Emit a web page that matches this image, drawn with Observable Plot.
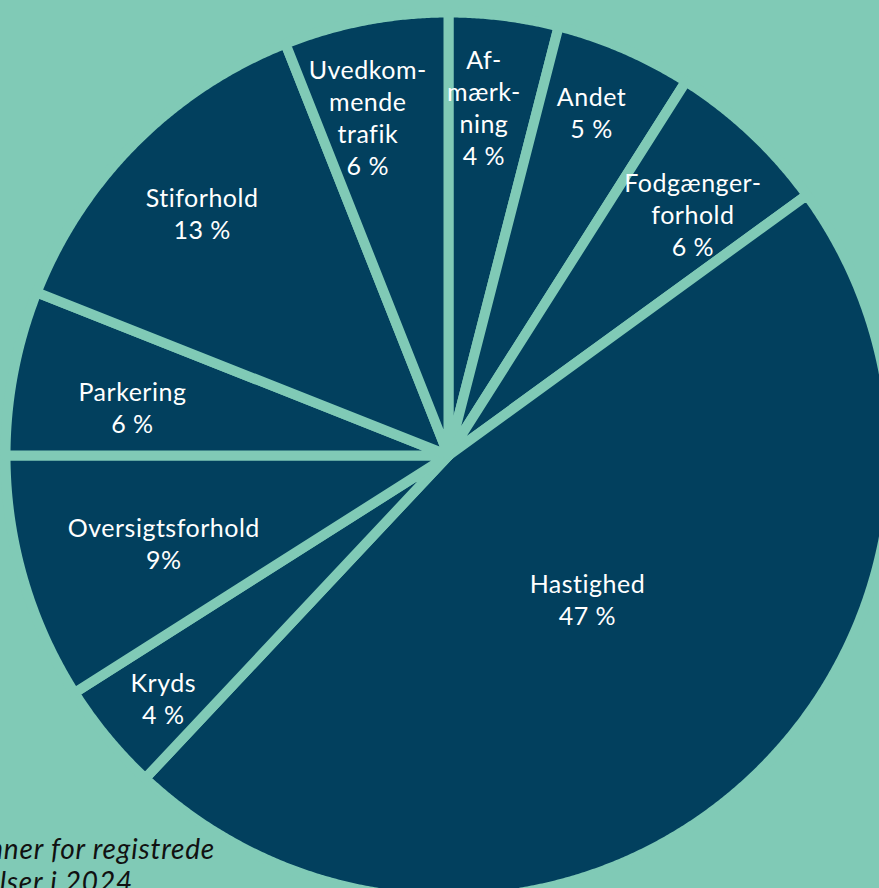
<!DOCTYPE html>
<html>
<head>
<meta charset="utf-8">
<script src="https://cdn.jsdelivr.net/npm/d3@7"></script>
<script src="https://cdn.jsdelivr.net/npm/@observablehq/plot@0.6"></script>
<style>
  html, body { margin: 0; padding: 0; background: #80cab6; }
  #wrap { position: relative; width: 879px; height: 888px; overflow: hidden; background: #80cab6; }
  #chart svg { display: block; }
  .cap { position: absolute; font-family: Lato, "Open Sans", sans-serif; font-style: italic; font-size: 28px; letter-spacing: 0.8px; line-height: 1.2; color: #111; white-space: nowrap; }
</style>
</head>
<body>
<div id="wrap">
  <div class="cap" id="cap1">Emner for registrede</div>
  <div class="cap" id="cap2">henvendelser i 2024</div>
  <div id="chart"></div>
</div>
<script>
// ---- data ----
const categories = ["Af-mærkning", "Andet", "Fodgængerforhold", "Hastighed", "Kryds", "Oversigtsforhold", "Parkering", "Stiforhold", "Uvedkommende trafik"];
const values = [4, 5, 6, 47, 4, 9, 6, 13, 6];
const labels = ["Af-\nmærk-\nning\n4 %", "Andet\n5 %", "Fodgænger-\nforhold\n6 %", "Hastighed\n47 %", "Kryds\n4 %", "Oversigtsforhold\n9%", "Parkering\n6 %", "Stiforhold\n13 %", "Uvedkom-\nmende\ntrafik\n6 %"];

// ---- layout ----
const W = 879, H = 888;
const cx = 448, cy = 455, R = 443;
const labelRadius = [0.80, 0.85, 0.785, 0.455, 0.855, 0.68, 0.73, 0.79, 0.795];
const labelTurn = [-1.4, -0.8, 2.1, -2.8, -0.8, -0.9, -2.1, -0.4, -2.6]; // degrees
const NAVY = "#02405e", MINT = "#80cab6";

const arcs = d3.pie().sort(null).value(d => d)(values);
const pt = (a, r) => ({x: cx + r * Math.sin(a), y: cy - r * Math.cos(a)});

const slicePts = [];
arcs.forEach((a, i) => {
  slicePts.push({name: categories[i], ...pt(0, 0)});
  const n = Math.max(2, Math.ceil((a.endAngle - a.startAngle) / 0.005));
  for (let k = 0; k <= n; k++) {
    const ang = a.startAngle + (a.endAngle - a.startAngle) * k / n;
    slicePts.push({name: categories[i], ...pt(ang, R)});
  }
});

const labelData = arcs.map((a, i) => {
  const mid = (a.startAngle + a.endAngle) / 2 + labelTurn[i] * Math.PI / 180;
  return {text: labels[i], ...pt(mid, labelRadius[i] * 438)};
});

const chart = Plot.plot({
  width: W,
  height: H,
  margin: 0,
  x: {type: "identity", axis: null},
  y: {type: "identity", axis: null},
  style: {background: "transparent", overflow: "visible"},
  marks: [
    Plot.line(slicePts, {x: "x", y: "y", z: "name", curve: "linear-closed", fill: NAVY, stroke: MINT, strokeWidth: 10, strokeLinejoin: "round"}),
    Plot.text(labelData, {x: "x", y: "y", text: "text", fill: "white", fontSize: 25, lineHeight: 1.28, fontFamily: "Lato, 'Open Sans', sans-serif", textAnchor: "middle"})
  ]
});
chart.querySelectorAll("text").forEach(t => t.style.letterSpacing = "0.5px");
document.getElementById("chart").appendChild(chart);

// caption fragments, placed by their right edges
const place = (el, right, top) => {
  const w = el.getBoundingClientRect().width;
  el.style.left = (right - w) + "px";
  el.style.top = top + "px";
};
place(document.getElementById("cap1"), 215, 832);
place(document.getElementById("cap2"), 133, 865);
</script>
</body>
</html>
